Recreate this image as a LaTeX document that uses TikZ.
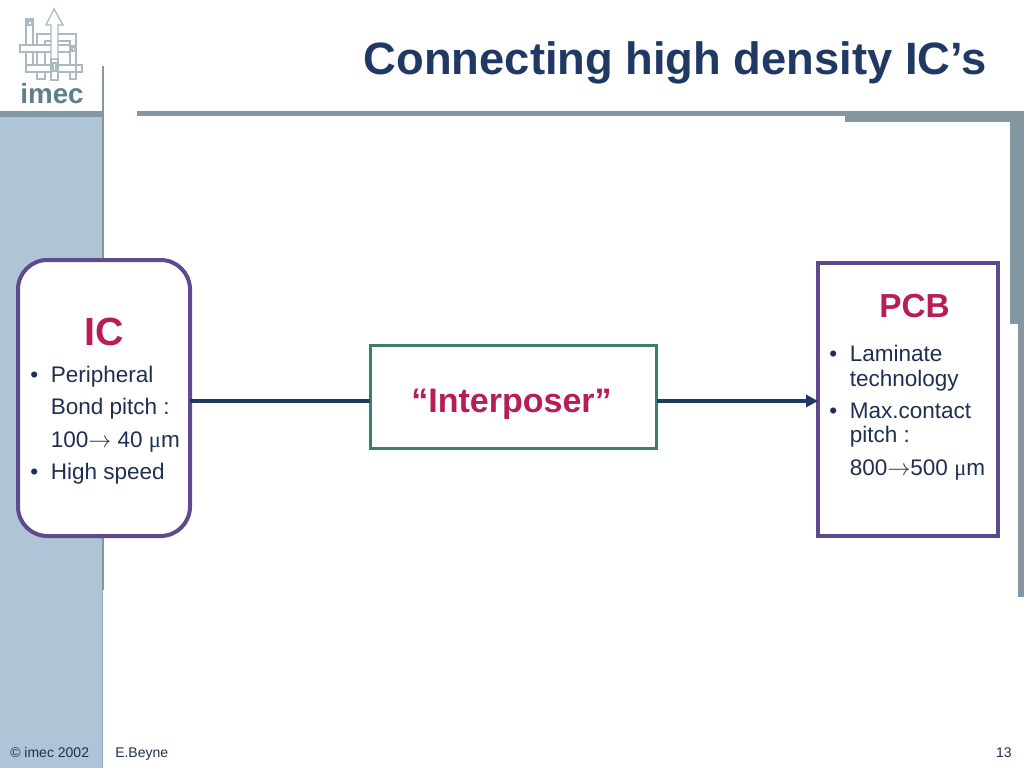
\documentclass[tikz,border=0pt]{standalone}
\usepackage{fontspec}
\setmainfont{Liberation Sans}
\newfontfamily\symfont{Liberation Serif}
\usetikzlibrary{arrows.meta}
\definecolor{panelblue}{HTML}{AFC4D6}
\definecolor{bargray}{HTML}{8497A3}
\definecolor{navy}{HTML}{1F3864}
\definecolor{bodytext}{HTML}{1F2F52}
\definecolor{boxpurple}{HTML}{5F4B8B}
\definecolor{crimson}{HTML}{B81D55}
\definecolor{boxgreen}{HTML}{3B7F6E}
\definecolor{logoline}{HTML}{A9BAC3}
\definecolor{logotext}{HTML}{5F8088}
\newcommand{\micro}{{\symfont μ}}
\tikzset{
  px/.style={x=0.75pt,y=-0.75pt},
  bar/.style={fill=bargray,draw=none},
  body/.style={font=\fontsize{16.9}{16.9}\selectfont,text=bodytext,anchor=base west,inner sep=0pt},
  smalltext/.style={font=\fontsize{10.5}{10.5}\selectfont,text=bodytext,anchor=base west,inner sep=0pt},
  head/.style={font=\bfseries,text=crimson,anchor=base,inner sep=0pt},
  logo/.style={draw=logoline,line width=1pt,fill=white},
  link/.style={draw=navy,line width=3pt}
}
\begin{document}
\begin{tikzpicture}[px]
\useasboundingbox (0,0) rectangle (1024,768);
\fill[white] (0,0) rectangle (1024,768);
% panels and bars
\fill[panelblue] (0,117) rectangle (102,768);
\fill[bar] (0,111) rectangle (104,117);
\fill[bar] (101.5,66) rectangle (104,117);
\fill[bar] (101.5,117) rectangle (104,590);
\fill[bargray!60!panelblue] (101.5,590) rectangle (103,768);
\fill[bar] (137,111) rectangle (1024,116);
\fill[bar] (845,116) rectangle (1024,121.5);
\fill[bar] (1010,121) rectangle (1024,324);
\fill[bar] (1018,324) rectangle (1024,597);
% logo
\draw[logo] (37,34) rectangle (76,68);
\draw[logo] (45,41) rectangle (70,71);
\draw[logo] (26,19) rectangle (33,72);
\draw[logo] (28,21) rectangle (32,25);
\draw[logo] (70,46) rectangle (76,79);
\draw[logo] (72,47) rectangle (75,51);
\draw[logo] (20,45) rectangle (70,52);
\draw[logo] (26,65) rectangle (82,72);
\draw[logo] (37,72) rectangle (45,79);
\draw[logo] (76,65) rectangle (82,72);
\draw[logo] (51,59) rectangle (58,80);
\draw[logo] (53,63) rectangle (56,71);
\draw[logo] (54,9) -- (63,25) -- (58,25) -- (58,59) -- (51,59) -- (51,25) -- (46,25) -- cycle;
\node[font=\fontsize{20.8}{20.8}\bfseries\selectfont,text=logotext,anchor=base,inner sep=0pt] (logotxt) at (52,103) {imec};
% title
\node[font=\fontsize{34}{34}\bfseries\selectfont,text=navy,anchor=base east,inner sep=0pt] (title) at (987,74) {Connecting high density IC’s};
% boxes
\draw[draw=boxpurple,line width=3pt,fill=white,rounded corners=22pt] (18,260) rectangle (190,536);
\draw[draw=boxpurple,line width=3pt,fill=white] (818,263) rectangle (998,536);
\node[draw=boxgreen,line width=2.25pt,fill=white,minimum width=215pt,minimum height=77.5pt,inner sep=0pt,anchor=center] (inter) at (513.5,397) {};
\coordinate (icr) at (190,401);
\coordinate (pcbl) at (818,401);
\coordinate (il) at (370,401);
\coordinate (ir) at (657,401);
\draw[link] (icr) -- (il);
\draw[link,-{Triangle[length=9pt,width=9pt]},fill=navy] (ir) -- (pcbl);
% IC text
\node[head,font=\fontsize{29.5}{29.5}\bfseries\selectfont] (ictitle) at (104,345) {IC};
\node[body] (ic0) at (30,382) {•};
\node[body] (ic1) at (50.5,382) {Peripheral};
\node[body] (ic2) at (50.5,414) {Bond pitch :};
\node[body] (ic3) at (50.5,447) {100$\rightarrow$ 40 \micro m};
\node[body] (ic4) at (30,479) {•};
\node[body] (ic5) at (50.5,479) {High speed};
% PCB text
\node[head,font=\fontsize{25}{25}\bfseries\selectfont] (pcbtitle) at (914.5,317) {PCB};
\node[body] (p0) at (829,361) {•};
\node[body] (p1) at (849.5,361) {Laminate};
\node[body] (p2) at (849.5,386) {technology};
\node[body] (p3) at (829,418) {•};
\node[body] (p4) at (849.5,418) {Max.contact};
\node[body] (p5) at (849.5,442) {pitch :};
\node[body] (p6) at (849.5,475) {800$\rightarrow$500 \micro m};
% interposer
\node[head,font=\fontsize{25.5}{25.5}\bfseries\selectfont] (intertxt) at (511.5,412) {“Interposer”};
% footer
\node[smalltext] (f1) at (10,757) {© imec 2002};
\node[smalltext] (f2) at (115,757) {E.Beyne};
\node[smalltext,anchor=base east] (f3) at (1012,757) {13};
\end{tikzpicture}
\end{document}
